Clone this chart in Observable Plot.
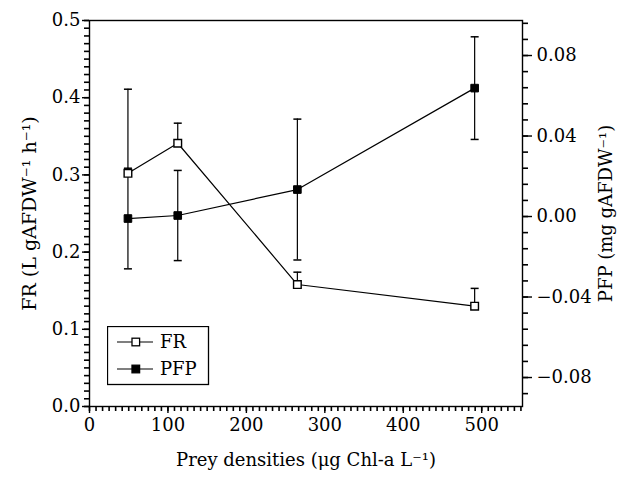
<!DOCTYPE html>
<html><head><meta charset="utf-8">
<script src="https://cdn.jsdelivr.net/npm/d3@7"></script>
<script src="https://cdn.jsdelivr.net/npm/@observablehq/plot@0.6"></script>
<style>
body{margin:0;background:#fff;}
#chart{position:relative;width:627px;height:479px;}
#legend{position:absolute;left:107px;top:326px;}
</style>
</head><body><div id="chart"></div>
<script>
// ---- data ----
const densities = [49, 112.5, 265, 491];
const frMean   = [0.302, 0.341, 0.158, 0.130];
const frErrUp  = [0.109, 0.026, 0.016, 0.023];
const pfpMean  = [-0.001, 0.0005, 0.0134, 0.0638];
const pfpErr   = [0.025, 0.0224, 0.035, 0.0255];
const seriesNames = ["FR", "PFP"];
const xTicks   = [0, 100, 200, 300, 400, 500];
const frTicks  = [0, 0.1, 0.2, 0.3, 0.4, 0.5];
const pfpTicks = [-0.08, -0.04, 0, 0.04, 0.08];
const xLabel   = "Prey densities (μg Chl-a L⁻¹)";
const frLabel  = "FR (L gAFDW⁻¹ h⁻¹)";
const pfpLabel = "PFP (mg gAFDW⁻¹)";

// ---- scales ----
const xDomain = [0, 552];
const frDomain = [0, 0.5];
const pfpDomain = [-0.0944, 0.0974];
const toFr = v => (v - pfpDomain[0]) / (pfpDomain[1] - pfpDomain[0]) * (frDomain[1] - frDomain[0]) + frDomain[0];
const fromFr = y => (y - frDomain[0]) / (frDomain[1] - frDomain[0]) * (pfpDomain[1] - pfpDomain[0]) + pfpDomain[0];

const fr = densities.map((x, i) => ({x, y: frMean[i], top: frMean[i] + frErrUp[i]}));
const pfp = densities.map((x, i) => ({x, y: toFr(pfpMean[i]), lo: toFr(pfpMean[i] - pfpErr[i]), hi: toFr(pfpMean[i] + pfpErr[i])}));

const capSymbol = {draw(ctx, size) { const r = Math.sqrt(size / Math.PI); ctx.moveTo(-r, 0); ctx.lineTo(r, 0); }};

const xMinor = d3.range(0, 551, 100 / 12);
const frMinor = d3.range(0, 0.5001, 0.01);
const pfpMinor = d3.range(-0.088, 0.0961, 0.008).map(toFr);

const font = "DejaVu Serif";
const plot = Plot.plot({
  width: 627, height: 479,
  marginLeft: 89, marginRight: 105, marginTop: 20, marginBottom: 73,
  style: {fontFamily: font, fontSize: "18px", color: "#000", background: "#fff"},
  x: {domain: xDomain},
  y: {domain: frDomain},
  marks: [
    Plot.frame({stroke: "#000", strokeWidth: 1.4}),
    // minor ticks (outward)
    Plot.ruleX(xMinor, {x: d => d, y1: frDomain[0], y2: frDomain[0], insetBottom: -5, stroke: "#000", strokeWidth: 1.6}),
    Plot.ruleY(frMinor, {y: d => d, x1: xDomain[0], x2: xDomain[0], insetLeft: -5, stroke: "#000", strokeWidth: 1.6}),
    Plot.ruleY(pfpMinor, {y: d => d, x1: xDomain[1], x2: xDomain[1], insetRight: -6, stroke: "#000", strokeWidth: 1.6}),
    // error bars
    Plot.ruleX(fr, {x: "x", y1: "y", y2: "top", stroke: "#000", strokeWidth: 1.2}),
    Plot.dot(fr, {x: "x", y: "top", symbol: capSymbol, r: 4, stroke: "#000", strokeWidth: 1.5}),
    Plot.ruleX(pfp, {x: "x", y1: "lo", y2: "hi", stroke: "#000", strokeWidth: 1.2}),
    Plot.dot(pfp, {x: "x", y: "lo", symbol: capSymbol, r: 4, stroke: "#000", strokeWidth: 1.5}),
    Plot.dot(pfp, {x: "x", y: "hi", symbol: capSymbol, r: 4, stroke: "#000", strokeWidth: 1.5}),
    // lines
    Plot.line(fr, {x: "x", y: "y", stroke: "#000", strokeWidth: 1.2}),
    Plot.line(pfp, {x: "x", y: "y", stroke: "#000", strokeWidth: 1.2}),
    // markers
    Plot.dot(fr, {x: "x", y: "y", symbol: "square", r: 4.3, fill: "#fff", stroke: "#000", strokeWidth: 1.4}),
    Plot.dot(pfp, {x: "x", y: "y", symbol: "square", r: 4.3, fill: "#000", stroke: "#000", strokeWidth: 1}),
    // axes
    Plot.axisX(xTicks, {tickSize: 7, tickPadding: 5, tickFormat: d => String(d), label: null, strokeWidth: 1.4}),
    Plot.axisY(frTicks, {tickSize: 7, tickPadding: 2, tickFormat: d3.format(".1f"), label: null, strokeWidth: 1.4}),
    Plot.axisY(pfpTicks.map(toFr), {anchor: "right", tickSize: 9, tickPadding: 5, tickFormat: d => d3.format(".2f")(fromFr(d)), label: null, strokeWidth: 1.4}),
    // axis titles
    Plot.text([xLabel], {text: d => d, frameAnchor: "bottom", lineAnchor: "middle", dy: 54, fontSize: 18}),
    Plot.text([frLabel], {text: d => d, frameAnchor: "left", textAnchor: "middle", dx: -60, rotate: -90, fontSize: 19}),
    Plot.text([pfpLabel], {text: d => d, frameAnchor: "right", textAnchor: "middle", dx: 84, rotate: -90, fontSize: 18})
  ]
});
document.getElementById("chart").appendChild(plot);

// ---- legend (inside the plot area, lower left) ----
const lg = d3.select("#chart").append("svg").attr("id", "legend").attr("width", 103).attr("height", 60);
lg.append("rect").attr("x", 0.5).attr("y", 0.5).attr("width", 101).attr("height", 58).attr("fill", "#fff").attr("stroke", "#000").attr("stroke-width", 1.3);
seriesNames.forEach((name, i) => {
  const cy = 16 + i * 27;
  lg.append("line").attr("x1", 10).attr("x2", 46).attr("y1", cy).attr("y2", cy).attr("stroke", "#000").attr("stroke-width", 1.2);
  lg.append("rect").attr("x", 25).attr("y", cy - 3.8).attr("width", 7.6).attr("height", 7.6)
    .attr("fill", i === 0 ? "#fff" : "#000").attr("stroke", "#000").attr("stroke-width", 1.3);
  lg.append("text").attr("x", 53).attr("y", cy).attr("dy", "0.36em").attr("font-family", font).attr("font-size", 18).text(name);
});
</script>
</body></html>
